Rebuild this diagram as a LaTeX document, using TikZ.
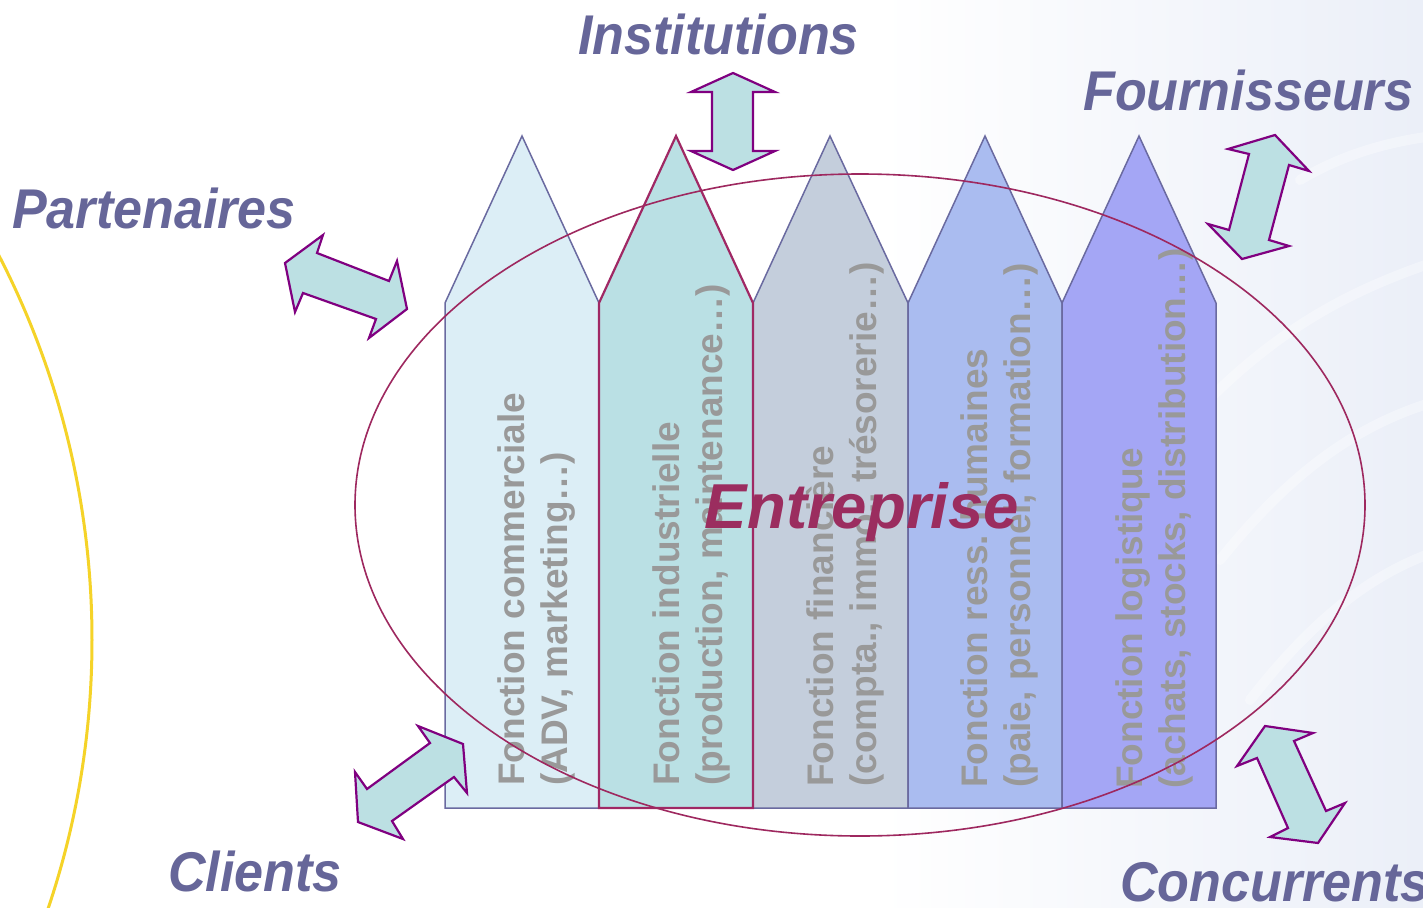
\documentclass[tikz,border=0pt]{standalone}
\usepackage{fontspec}
\setmainfont{Liberation Sans}
\definecolor{bgblue}{RGB}{235,239,248}
\definecolor{lblcol}{RGB}{102,102,153}
\definecolor{entcol}{RGB}{155,45,95}
\definecolor{ellcol}{RGB}{158,40,95}
\definecolor{colline}{RGB}{106,106,160}
\definecolor{col2line}{RGB}{160,40,100}
\definecolor{cA}{RGB}{220,238,246}
\definecolor{cB}{RGB}{186,224,228}
\definecolor{cC}{RGB}{196,206,220}
\definecolor{cD}{RGB}{170,188,240}
\definecolor{cE}{RGB}{164,166,245}
\definecolor{arrfill}{RGB}{188,224,227}
\definecolor{arrline}{RGB}{128,0,128}
\definecolor{txtgray}{RGB}{153,153,153}
\definecolor{sunyellow}{RGB}{245,211,40}
\begin{document}
\begin{tikzpicture}[x=1pt,y=-1pt,
  colbox/.style={draw=colline, line width=1.5pt, line join=miter},
  coltext/.style={rotate=90, anchor=north west, inner sep=0pt, align=left,
    text=txtgray, font=\bfseries\fontsize{37}{43}\selectfont},
  dblarrow/.style={fill=arrfill, draw=arrline, line width=2.2pt, line join=miter},
  lbl/.style={font=\bfseries\itshape\fontsize{56}{60}\selectfont, text=lblcol,
    inner sep=0pt, anchor=base west, xscale=0.93},
  swirl/.style={white, line width=10pt, opacity=0.35, line cap=round}]
\useasboundingbox (0,0) rectangle (1423,907);
% background
\fill[white] (0,0) rectangle (1423,907);
\shade[left color=white, right color=bgblue] (880,0) rectangle (1423,907);
\draw[swirl] (1180,430) .. controls (1270,330) and (1350,290) .. (1440,260);
\draw[swirl] (1220,560) .. controls (1300,460) and (1370,420) .. (1440,400);
\draw[swirl] (1250,700) .. controls (1320,610) and (1380,570) .. (1440,550);
\draw[swirl] (1300,180) .. controls (1350,150) and (1400,140) .. (1440,135);
% yellow arc
\draw[sunyellow, line width=3pt] (-747,640) circle [radius=839pt];
% columns
\path[colbox, fill=cA] (445,808) -- (445,303) -- (522,136) -- (599,303) -- (599,808) -- cycle;
\path[colbox, fill=cC] (753,808) -- (753,303) -- (830,136) -- (908,303) -- (908,808) -- cycle;
\path[colbox, fill=cD] (908,808) -- (908,303) -- (985,136) -- (1062,303) -- (1062,808) -- cycle;
\path[colbox, fill=cE] (1062,808) -- (1062,303) -- (1139,136) -- (1216,303) -- (1216,808) -- cycle;
\path[colbox, fill=cB, draw=col2line, line width=2.2pt] (599,808) -- (599,303) -- (676,136) -- (753,303) -- (753,808) -- cycle;
% column texts
\node[coltext] (t1) at (497,786) {Fonction commerciale\\(ADV, marketing…)};
\node[coltext] (t2) at (652,786) {Fonction industrielle\\(production, maintenance…)};
\node[coltext] (t3) at (806,787) {Fonction financière\\(compta., immo., trésorerie…)};
\node[coltext] (t4) at (960,788) {Fonction ress. humaines\\(paie, personnel, formation…)};
\node[coltext] (t5) at (1115,789) {Fonction logistique\\(achats, stocks, distribution…)};
% ellipse
\draw[ellcol, line width=1.6pt] (860,505) ellipse [x radius=505pt, y radius=331pt];
\node[font=\bfseries\itshape\fontsize{63.5}{70}\selectfont, text=entcol, anchor=base, inner sep=0pt] (ent) at (862,528) {Entreprise};
% double arrows
\path[dblarrow] (733,73) -- (775,92) -- (753,92) -- (753,151) -- (775,151) -- (733,170)
  -- (691,151) -- (712,151) -- (712,92) -- (691,92) -- cycle;
\path[dblarrow] (285,263) -- (323,235) -- (317,253) -- (389,281) -- (397,261) -- (407,309)
  -- (369,338) -- (376,319) -- (303,293) -- (295,312) -- cycle;
\path[dblarrow] (1275,135) -- (1309,171) -- (1289,165) -- (1269,240) -- (1289,246) -- (1242,259)
  -- (1208,224) -- (1229,230) -- (1249,154) -- (1228,149) -- cycle;
\path[dblarrow] (463,744) -- (467,793) -- (454,777) -- (392,821) -- (403,839) -- (358,822)
  -- (355,772) -- (367,789) -- (430,743) -- (418,726) -- cycle;
\path[dblarrow] (1265,726) -- (1313,733) -- (1294,741) -- (1326,811) -- (1345,803) -- (1318,843)
  -- (1270,837) -- (1288,828) -- (1257,758) -- (1237,766) -- cycle;
% labels
\node[lbl] (inst) at (578,55) {Institutions};
\node[lbl] (four) at (1083,110) {Fournisseurs};
\node[lbl] (part) at (12,228) {Partenaires};
\node[lbl] (cli) at (168,891) {Clients};
\node[lbl] (conc) at (1120,901) {Concurrents};
\end{tikzpicture}
\end{document}
